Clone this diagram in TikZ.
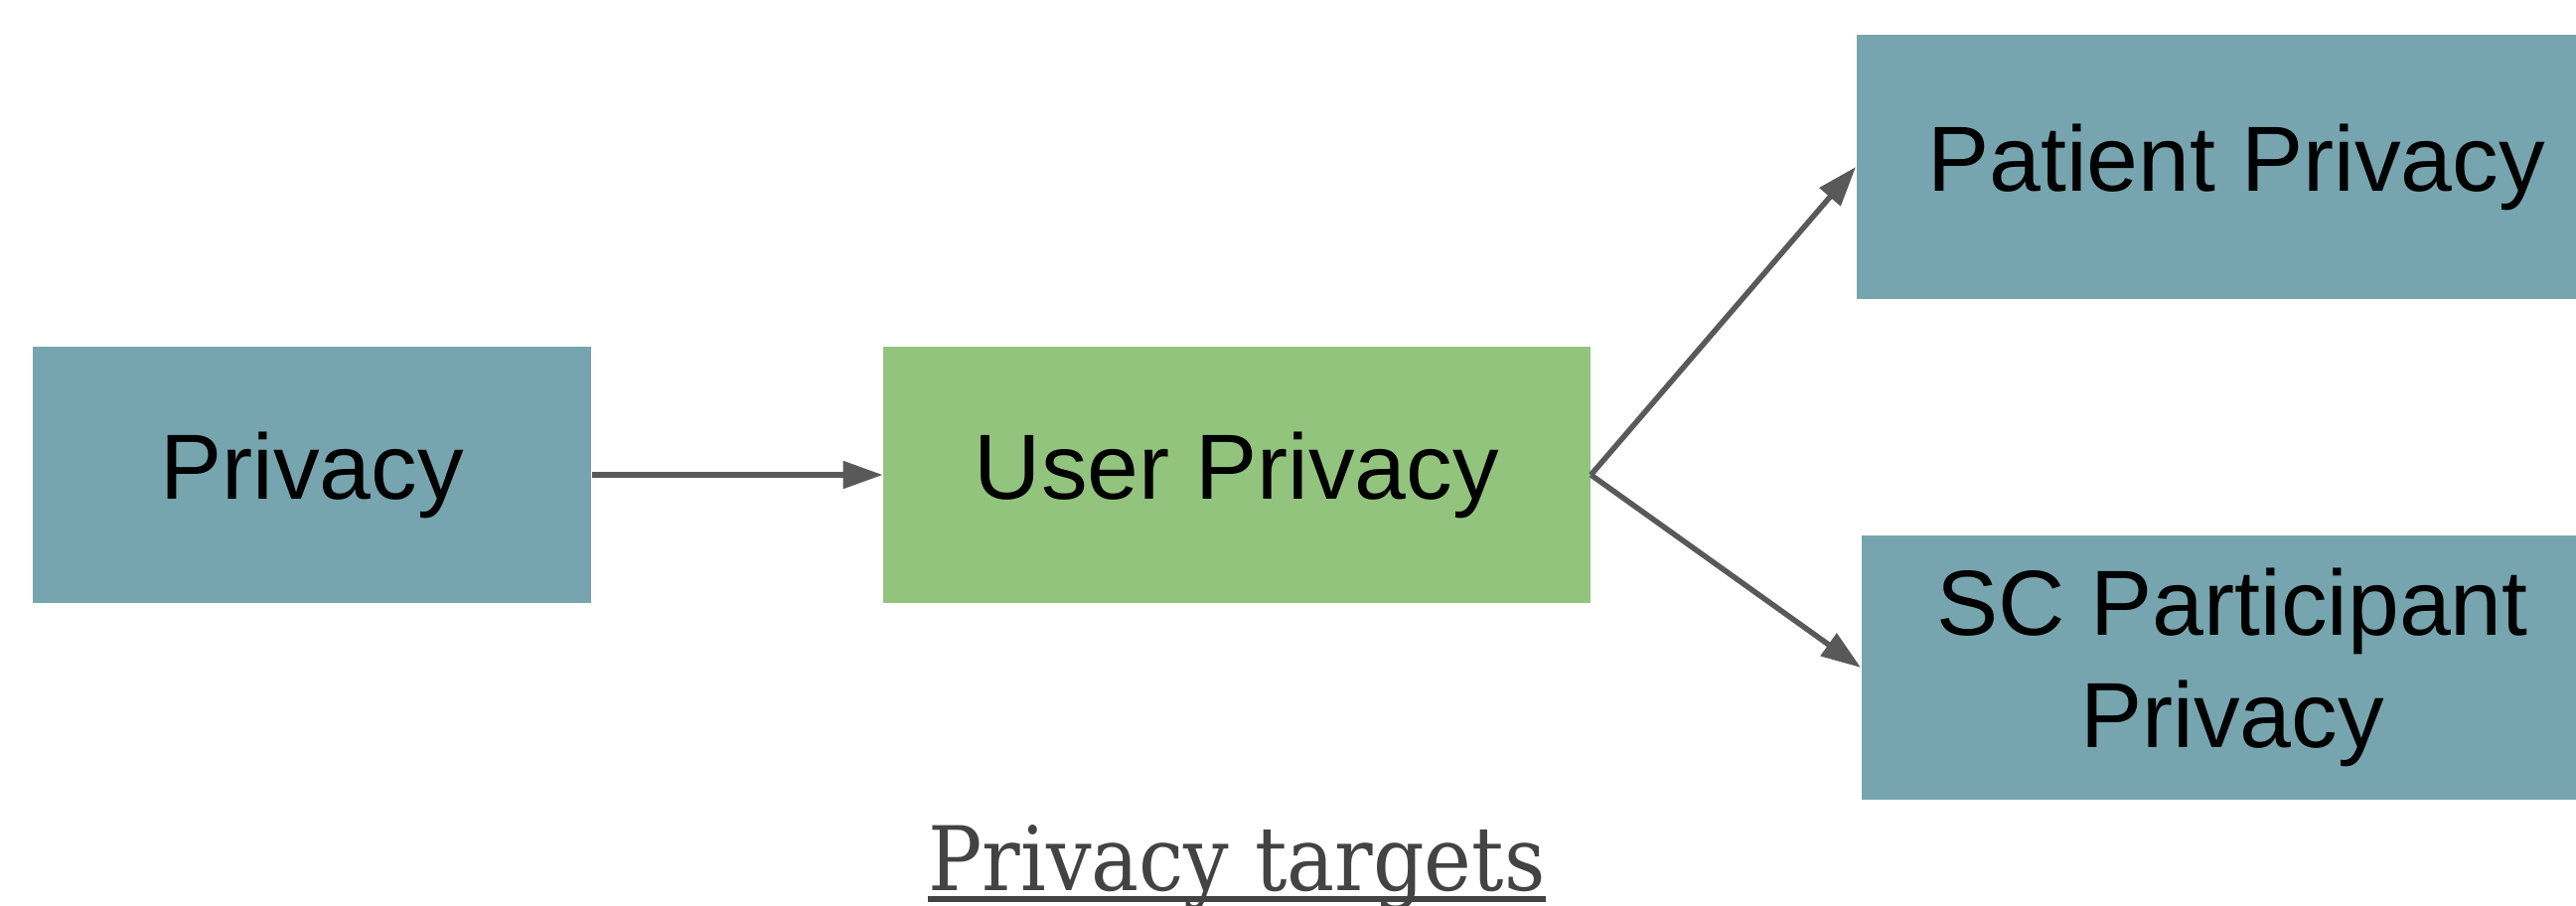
\documentclass[tikz,border=0pt]{standalone}
\usepackage{fontspec}
\setmainfont{Liberation Sans}
\newfontfamily\captionserif[FakeStretch=0.9]{DejaVu Serif}
\usetikzlibrary{arrows.meta}

\definecolor{boxteal}{HTML}{76A5AF}
\definecolor{boxgreen}{HTML}{93C47D}
\definecolor{linegray}{HTML}{595959}
\definecolor{textgray}{HTML}{434343}

\begin{document}
\begin{tikzpicture}[
  x=0.01cm, y=-0.01cm,
  every node/.style={inner sep=0pt},
  target/.style={rectangle, fill=boxteal, minimum height=2.6cm, align=center,
    font=\fontsize{26.5pt}{32pt}\selectfont},
  userbox/.style={target, fill=boxgreen},
  arrow/.style={draw=linegray, line width=0.055cm,
    -{Triangle[length=0.4cm, width=0.27cm]}}]

  \useasboundingbox (0,0) rectangle (2593,911);

  % ---- boxes --------------------------------------------------------------
  \node[target, minimum width=5.62cm, minimum height=2.58cm] (priv) at (314,478) {Privacy};
  \node[userbox, minimum width=7.11cm, minimum height=2.58cm] (user) at (1245,478) {User Privacy};
  \node[target, minimum width=7.64cm, minimum height=2.65cm] (patient) at (2251,168) {Patient Privacy};
  \node[target, minimum width=7.46cm, minimum height=2.66cm] (scpart) at (2247,672) {SC Participant\\Privacy};

  % ---- caption ------------------------------------------------------------
  \node[anchor=base, text=textgray, font=\captionserif\fontsize{25.5pt}{30pt}\selectfont]
    (cap) at (1245,896) {Privacy targets};
  \draw[textgray, line width=0.065cm] ([yshift=-0.09cm]cap.base west) -- ([yshift=-0.09cm]cap.base east);

  % ---- arrows -------------------------------------------------------------
  \draw[arrow] (priv.east) -- (user.west);
  \draw[arrow] (user.east) -- (patient.west);
  \draw[arrow] (user.east) -- (scpart.west);
\end{tikzpicture}
\end{document}
